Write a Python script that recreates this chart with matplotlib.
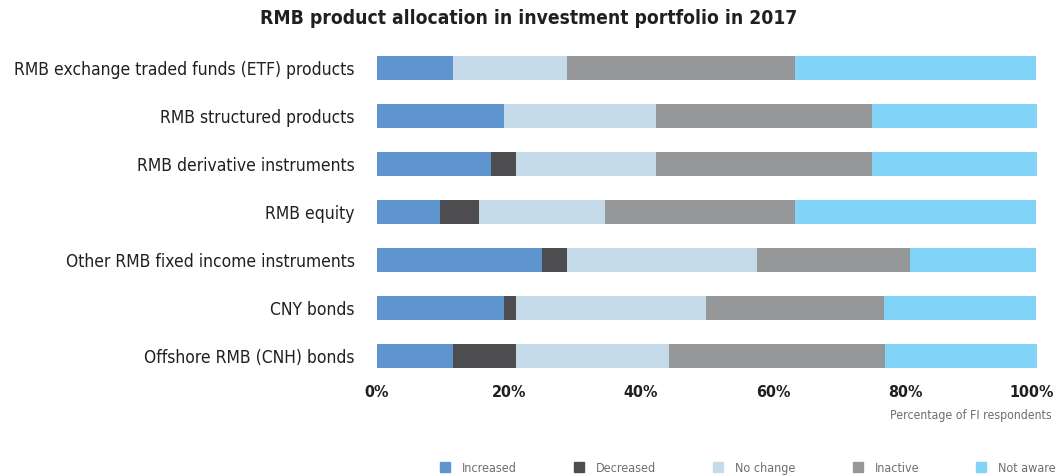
import matplotlib.pyplot as plt
from matplotlib.lines import Line2D
from matplotlib.transforms import ScaledTranslation

plt.rcParams['font.family'] = ['DejaVu Sans']
plt.rcParams['font.stretch'] = 'condensed'

# products, bottom row first
products = [
    'Offshore RMB (CNH) bonds',
    'CNY bonds',
    'Other RMB fixed income instruments',
    'RMB equity',
    'RMB derivative instruments',
    'RMB structured products',
    'RMB exchange traded funds (ETF) products',
]

# share of FI respondents, %
increased = [11.5, 19.2, 25.0, 9.6, 17.3, 19.2, 11.5]
decreased = [9.6, 1.9, 3.8, 5.8, 3.8, 0.0, 0.0]
no_change = [23.1, 28.8, 28.8, 19.2, 21.2, 23.1, 17.3]
inactive = [32.7, 26.9, 23.1, 28.8, 32.7, 32.7, 34.6]
not_aware = [23.1, 23.1, 19.2, 36.5, 25.0, 25.0, 36.5]

series = ['Increased', 'Decreased', 'No change', 'Inactive', 'Not aware']
colors = ['#5f95cf', '#4d4d4f', '#c5dbe9', '#969799', '#81d4f7']
ticks = [0, 20, 40, 60, 80, 100]

fig = plt.figure(figsize=(10.57, 4.75), dpi=100)
ax = fig.add_axes([0.3567, 0.2, 0.6244, 0.7074])

left = [0.0] * len(products)
for name, vals, col in zip(series, [increased, decreased, no_change, inactive, not_aware], colors):
    ax.barh(range(len(products)), vals, left=left, height=0.48, color=col, label=name)
    left = [l + v for l, v in zip(left, vals)]

ax.set_xlim(0, 100)
ax.set_ylim(-0.5, len(products) - 0.5)
ax.set_yticks(range(len(products)))
ax.set_yticklabels(products, fontsize=12.5, color='#231f20')
ax.set_xticks(ticks)
ax.set_xticklabels([f'{t}%' for t in ticks], fontsize=11.5, fontweight='bold', color='#231f20')
ax.tick_params(length=0)
ax.tick_params(axis='y', pad=16)
ax.tick_params(axis='x', pad=3.5)
for s in ax.spines.values():
    s.set_visible(False)

# keep "100%" inside the figure
last = ax.get_xticklabels()[-1]
last.set_transform(last.get_transform() + ScaledTranslation(-5 / 100, 0, fig.dpi_scale_trans))

fig.text(0.5, 0.962, 'RMB product allocation in investment portfolio in 2017',
         ha='center', va='center', fontsize=13.8, fontweight='bold', color='#231f20')
fig.text(0.995, 0.126, 'Percentage of FI respondents', ha='right', va='center',
         fontsize=8.8, color='#6d6e71')

handles = [Line2D([], [], marker='s', linestyle='none', markersize=7,
                  markerfacecolor=c, markeredgecolor=c) for c in colors]
fig.legend(handles, series, loc='center right', bbox_to_anchor=(0.999, 0.0147), ncol=5,
           frameon=False, fontsize=9, labelcolor='#6d6e71', columnspacing=4.46,
           handletextpad=0.86, handlelength=1.0, borderpad=0, borderaxespad=0)

fig.savefig('out.png', dpi=100)
